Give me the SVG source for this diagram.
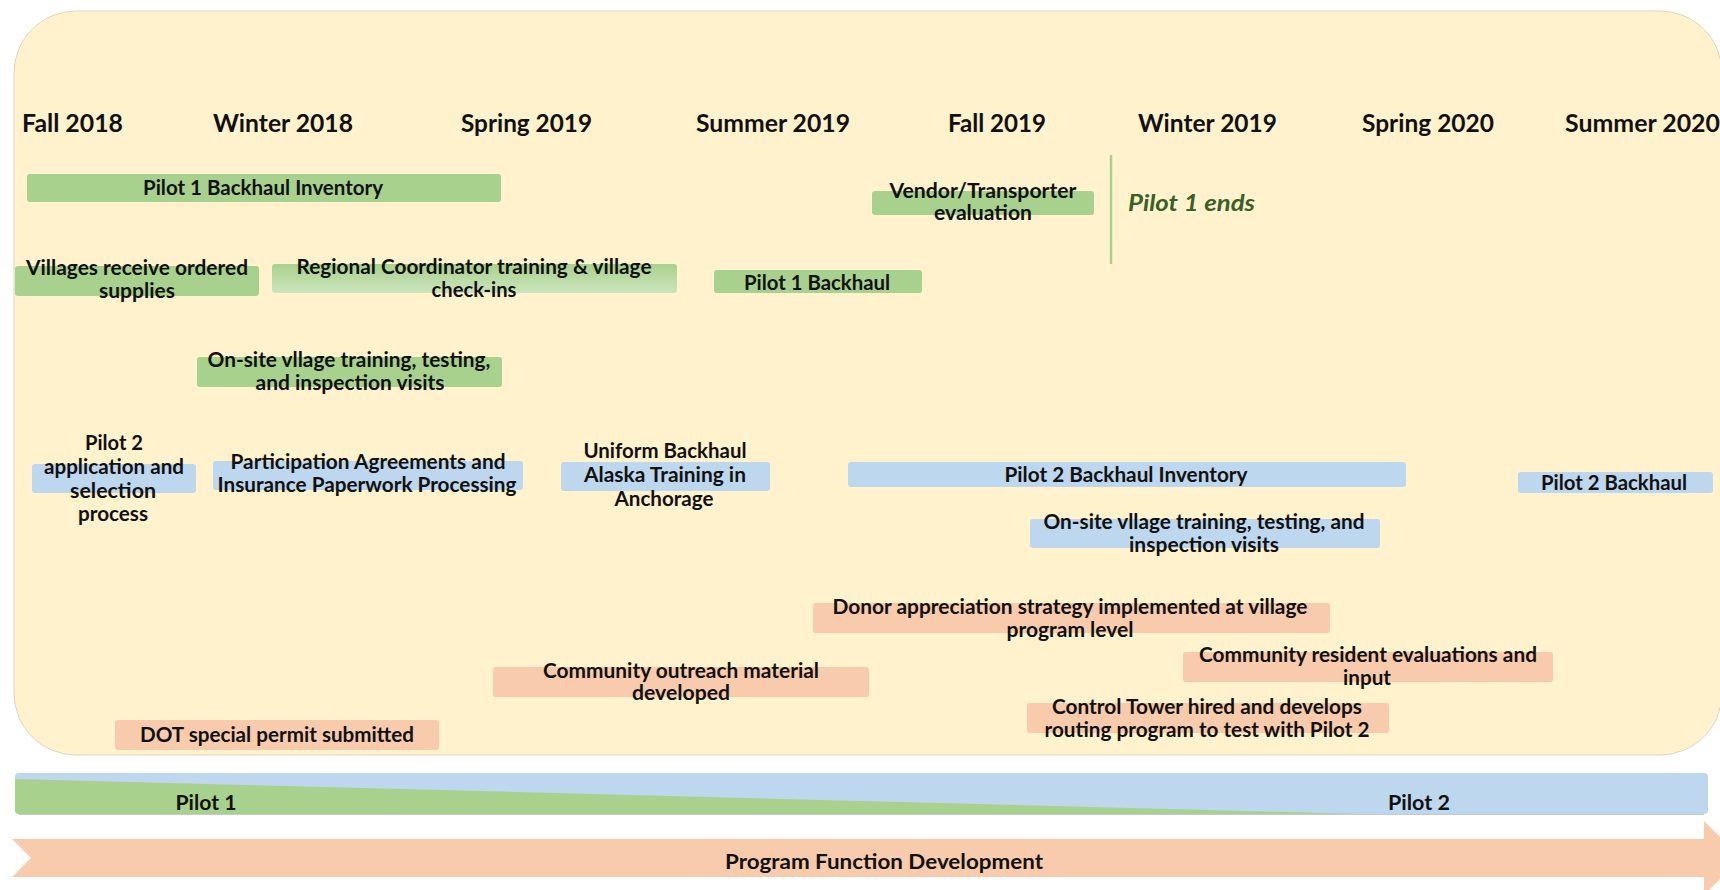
<svg xmlns="http://www.w3.org/2000/svg" width="1720" height="890" viewBox="0 0 1720 890">
<defs>
<style>
text{font-family:Lato,"Liberation Sans",sans-serif;font-weight:bold;fill:#111;}
.hd{font-size:25px;}
.t{font-size:20px;text-anchor:middle;}
.g{fill:#A9D18E;}
.b{fill:#BDD7EE;}
.o{fill:#F8CBAD;}
.end{font-size:23px;font-style:italic;fill:#3A5F27;}
</style>
<linearGradient id="gfade" x1="0" y1="0" x2="0" y2="1">
<stop offset="0" stop-color="#A9D18E"/>
<stop offset="1" stop-color="#CCE5BC"/>
</linearGradient>
<clipPath id="bandclip"><rect x="15" y="773" width="1693" height="41" rx="4"/></clipPath>
</defs>
<rect width="1720" height="890" fill="#FFFFFF"/>
<rect id="panel" x="14" y="11" width="1708" height="744" rx="62" fill="#FFF2CC" stroke="#DDD6C4" stroke-width="1"/>

<g id="seasons">
<text class="hd" x="22" y="132" textLength="101" lengthAdjust="spacingAndGlyphs">Fall 2018</text>
<text class="hd" x="213" y="132" textLength="140" lengthAdjust="spacingAndGlyphs">Winter 2018</text>
<text class="hd" x="461" y="132" textLength="131" lengthAdjust="spacingAndGlyphs">Spring 2019</text>
<text class="hd" x="696" y="132" textLength="154" lengthAdjust="spacingAndGlyphs">Summer 2019</text>
<text class="hd" x="948" y="132" textLength="98" lengthAdjust="spacingAndGlyphs">Fall 2019</text>
<text class="hd" x="1138" y="132" textLength="139" lengthAdjust="spacingAndGlyphs">Winter 2019</text>
<text class="hd" x="1362" y="132" textLength="132" lengthAdjust="spacingAndGlyphs">Spring 2020</text>
<text class="hd" x="1565" y="132" textLength="155" lengthAdjust="spacingAndGlyphs">Summer 2020</text>
</g>

<g id="p1-inventory">
<rect class="g" x="27" y="174" width="474" height="28" rx="3"/>
<text class="t" x="263" y="195" textLength="240" lengthAdjust="spacingAndGlyphs">Pilot 1 Backhaul Inventory</text>
</g>
<g id="p1-villages-supplies">
<rect class="g" x="15" y="266" width="244" height="30" rx="3"/>
<text class="t" x="137" y="275" textLength="222" lengthAdjust="spacingAndGlyphs">Villages receive ordered</text>
<text class="t" x="137" y="298" textLength="76" lengthAdjust="spacingAndGlyphs">supplies</text>
</g>
<g id="p1-regional">
<rect x="272" y="264" width="405" height="29" rx="3" fill="url(#gfade)"/>
<text class="t" x="474" y="274" textLength="355" lengthAdjust="spacingAndGlyphs">Regional Coordinator training &amp; village</text>
<text class="t" x="474" y="297" textLength="85" lengthAdjust="spacingAndGlyphs">check-ins</text>
</g>
<g id="p1-backhaul">
<rect class="g" x="714" y="270" width="208" height="23" rx="3"/>
<text class="t" x="817" y="290" textLength="146" lengthAdjust="spacingAndGlyphs">Pilot 1 Backhaul</text>
</g>
<g id="p1-onsite">
<rect class="g" x="197" y="357" width="305" height="30" rx="3"/>
<text class="t" x="349" y="367" textLength="283" lengthAdjust="spacingAndGlyphs">On-site vllage training, testing,</text>
<text class="t" x="350" y="390" textLength="189" lengthAdjust="spacingAndGlyphs">and inspection visits</text>
</g>
<g id="p1-vendor">
<rect class="g" x="872" y="191" width="222" height="24" rx="3"/>
<text class="t" x="983" y="198" textLength="187" lengthAdjust="spacingAndGlyphs">Vendor/Transporter</text>
<text class="t" x="983" y="220" textLength="98" lengthAdjust="spacingAndGlyphs">evaluation</text>
</g>
<g id="p1-end-divider">
<line x1="1111" y1="155" x2="1111" y2="264" stroke="#A9D18E" stroke-width="2.5"/>
</g>
<g id="p1-ends">
<text class="end" x="1128" y="211" textLength="127" lengthAdjust="spacingAndGlyphs">Pilot 1 ends</text>
</g>

<g id="p2-application">
<rect class="b" x="32" y="464" width="164" height="29" rx="3"/>
<text class="t" x="114" y="450" textLength="58" lengthAdjust="spacingAndGlyphs">Pilot 2</text>
<text class="t" x="114" y="474" textLength="140" lengthAdjust="spacingAndGlyphs">application and</text>
<text class="t" x="113" y="498" textLength="86" lengthAdjust="spacingAndGlyphs">selection</text>
<text class="t" x="113" y="521" textLength="70" lengthAdjust="spacingAndGlyphs">process</text>
</g>
<g id="p2-agreements">
<rect class="b" x="213" y="461" width="310" height="29" rx="3"/>
<text class="t" x="368" y="469" textLength="275" lengthAdjust="spacingAndGlyphs">Participation Agreements and</text>
<text class="t" x="367" y="492" textLength="299" lengthAdjust="spacingAndGlyphs">Insurance Paperwork Processing</text>
</g>
<g id="p2-uniform">
<rect class="b" x="561" y="462" width="209" height="29" rx="3"/>
<text class="t" x="665" y="458" textLength="163" lengthAdjust="spacingAndGlyphs">Uniform Backhaul</text>
<text class="t" x="665" y="482" textLength="162" lengthAdjust="spacingAndGlyphs">Alaska Training in</text>
<text class="t" x="664" y="506" textLength="99" lengthAdjust="spacingAndGlyphs">Anchorage</text>
</g>
<g id="p2-inventory">
<rect class="b" x="848" y="462" width="558" height="25" rx="3"/>
<text class="t" x="1126" y="482" textLength="243" lengthAdjust="spacingAndGlyphs">Pilot 2 Backhaul Inventory</text>
</g>
<g id="p2-backhaul">
<rect class="b" x="1518" y="472" width="195" height="21" rx="3"/>
<text class="t" x="1614" y="490" textLength="146" lengthAdjust="spacingAndGlyphs">Pilot 2 Backhaul</text>
</g>
<g id="p2-onsite">
<rect class="b" x="1030" y="519" width="350" height="29" rx="3"/>
<text class="t" x="1204" y="529" textLength="321" lengthAdjust="spacingAndGlyphs">On-site vllage training, testing, and</text>
<text class="t" x="1204" y="552" textLength="150" lengthAdjust="spacingAndGlyphs">inspection visits</text>
</g>

<g id="f-donor">
<rect class="o" x="813" y="603" width="517" height="30" rx="3"/>
<text class="t" x="1070" y="614" textLength="475" lengthAdjust="spacingAndGlyphs">Donor appreciation strategy implemented at village</text>
<text class="t" x="1070" y="637" textLength="127" lengthAdjust="spacingAndGlyphs">program level</text>
</g>
<g id="f-outreach">
<rect class="o" x="493" y="667" width="376" height="30" rx="3"/>
<text class="t" x="681" y="678" textLength="276" lengthAdjust="spacingAndGlyphs">Community outreach material</text>
<text class="t" x="681" y="700" textLength="98" lengthAdjust="spacingAndGlyphs">developed</text>
</g>
<g id="f-dot">
<rect class="o" x="115" y="720" width="324" height="30" rx="3"/>
<text class="t" x="277" y="742" textLength="274" lengthAdjust="spacingAndGlyphs">DOT special permit submitted</text>
</g>
<g id="f-resident">
<rect class="o" x="1183" y="652" width="370" height="30" rx="3"/>
<text class="t" x="1368" y="662" textLength="338" lengthAdjust="spacingAndGlyphs">Community resident evaluations and</text>
<text class="t" x="1367" y="685" textLength="48" lengthAdjust="spacingAndGlyphs">input</text>
</g>
<g id="f-control">
<rect class="o" x="1027" y="703" width="362" height="30" rx="3"/>
<text class="t" x="1207" y="714" textLength="310" lengthAdjust="spacingAndGlyphs">Control Tower hired and develops</text>
<text class="t" x="1207" y="737" textLength="325" lengthAdjust="spacingAndGlyphs">routing program to test with Pilot 2</text>
</g>

<g id="pilot-band">
<rect class="b" x="15" y="773" width="1693" height="41" rx="4"/>
<polygon class="g" points="15,779 1381,814.5 15,814.5" clip-path="url(#bandclip)"/>
<line x1="19" y1="814.5" x2="1704" y2="814.5" stroke="#9AA8B4" stroke-width="1" opacity="0.6"/>
<text class="t" x="206" y="810" textLength="61" lengthAdjust="spacingAndGlyphs">Pilot 1</text>
<text class="t" x="1419" y="810" textLength="62" lengthAdjust="spacingAndGlyphs">Pilot 2</text>
</g>

<g id="program-arrow">
<polygon class="o" points="12,839 1704,839 1704,821 1741,858 1704,895 1704,877 12,877 31,858"/>
<text class="t" x="884" y="869" textLength="318" lengthAdjust="spacingAndGlyphs">Program Function Development</text>
</g>
</svg>
